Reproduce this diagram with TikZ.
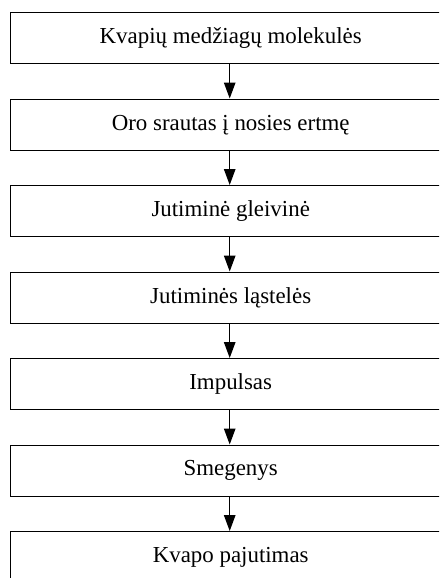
\documentclass[tikz,border=0pt]{standalone}
\usepackage{fontspec}
\setmainfont{Liberation Serif}
\usetikzlibrary{arrows.meta}
\begin{document}
\begin{tikzpicture}[x=1pt,y=-1pt,
  stage/.style={draw, line width=1.4pt, minimum width=440pt, minimum height=51pt,
    anchor=north west, inner sep=0pt, font=\fontsize{22.9}{27}\selectfont},
  flow/.style={-{Triangle[length=16pt,width=11.5pt]}, line width=1.3pt}]
\useasboundingbox (0,0) rectangle (439,578);
\clip (0,0) rectangle (439,578);
\node[stage] (s1) at (10,12)    {Kvapių medžiagų molekulės};
\node[stage] (s2) at (10,98.5)  {Oro srautas į nosies ertmę};
\node[stage] (s3) at (10,185)   {Jutiminė gleivinė};
\node[stage] (s4) at (10,271.5) {Jutiminės ląstelės};
\node[stage] (s5) at (10,358)   {Impulsas};
\node[stage] (s6) at (10,444.5) {Smegenys};
\node[stage] (s7) at (10,531)   {Kvapo pajutimas};
\foreach \a/\b in {s1/s2,s2/s3,s3/s4,s4/s5,s5/s6,s6/s7}
  \draw[flow] ([xshift=-1pt]\a.south) -- ([xshift=-1pt]\b.north);
\end{tikzpicture}
\end{document}
